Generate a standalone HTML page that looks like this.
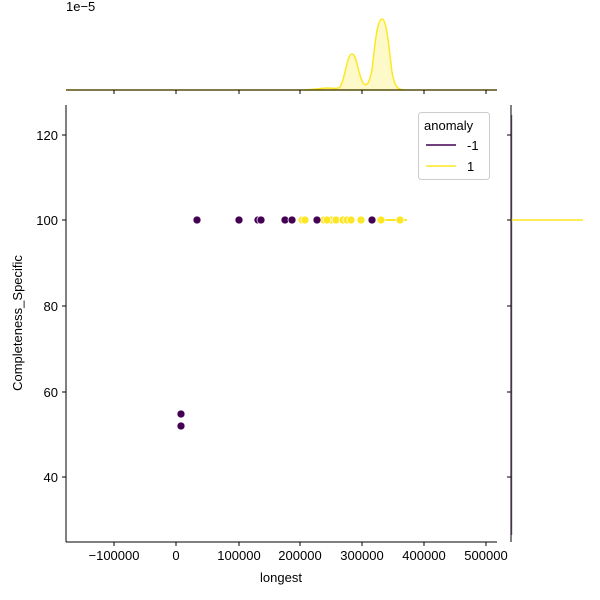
<!DOCTYPE html>
<html><head><style>body{margin:0;background:#fff}svg{display:block}text{font-family:"Liberation Sans","DejaVu Sans",sans-serif;font-size:13px;fill:#000}</style></head><body>
<svg width="600" height="600" viewBox="0 0 600 600">
<text x="66" y="11" font-size="13">1e−5</text>
<path d="M66,90 L300,90 C312,90 318,88.5 327,88 C333,88 337,89.5 340,87 C345,80 347,54 352,54 C357,54 359,80 364,84 C367,86 369,84 372,70 C375,45 377,19 382,19 C387,19 389,50 392,72 C395,88 398,90 405,90 L497,90 Z" fill="#fde725" fill-opacity="0.25" stroke="#fde725" stroke-width="1.5"/>
<line x1="66" y1="90" x2="497" y2="90" stroke="#000"/>
<g stroke="#000"><line x1="114" y1="90" x2="114" y2="94"/><line x1="176" y1="90" x2="176" y2="94"/><line x1="239" y1="90" x2="239" y2="94"/><line x1="300" y1="90" x2="300" y2="94"/><line x1="362" y1="90" x2="362" y2="94"/><line x1="424" y1="90" x2="424" y2="94"/><line x1="486" y1="90" x2="486" y2="94"/></g>
<line x1="511.5" y1="115" x2="511.5" y2="535" stroke="#440154" stroke-opacity="0.6" stroke-width="1.5"/>
<line x1="511" y1="220" x2="583" y2="220" stroke="#fde725" stroke-width="1.5"/>
<line x1="511" y1="105" x2="511" y2="542" stroke="#000"/>
<g stroke="#000"><line x1="507" y1="135" x2="511" y2="135"/><line x1="507" y1="220" x2="511" y2="220"/><line x1="507" y1="306" x2="511" y2="306"/><line x1="507" y1="392" x2="511" y2="392"/><line x1="507" y1="477" x2="511" y2="477"/></g>
<line x1="66" y1="105" x2="66" y2="542" stroke="#000"/>
<line x1="66" y1="542" x2="497" y2="542" stroke="#000"/>
<g stroke="#000"><line x1="62" y1="135" x2="66" y2="135"/><line x1="62" y1="220" x2="66" y2="220"/><line x1="62" y1="306" x2="66" y2="306"/><line x1="62" y1="392" x2="66" y2="392"/><line x1="62" y1="477" x2="66" y2="477"/>
<line x1="114" y1="542" x2="114" y2="546"/><line x1="176" y1="542" x2="176" y2="546"/><line x1="239" y1="542" x2="239" y2="546"/><line x1="300" y1="542" x2="300" y2="546"/><line x1="362" y1="542" x2="362" y2="546"/><line x1="424" y1="542" x2="424" y2="546"/><line x1="486" y1="542" x2="486" y2="546"/></g>
<g text-anchor="end"><text x="58" y="140">120</text><text x="58" y="225">100</text><text x="58" y="311">80</text><text x="58" y="397">60</text><text x="58" y="482">40</text></g>
<g text-anchor="middle"><text x="114" y="560">−100000</text><text x="176" y="560">0</text><text x="239" y="560">100000</text><text x="300" y="560">200000</text><text x="362" y="560">300000</text><text x="424" y="560">400000</text><text x="486" y="560">500000</text>
<text x="281" y="582">longest</text></g>
<text transform="translate(22,323) rotate(-90)" text-anchor="middle">Completeness_Specific</text>
<line x1="381" y1="220" x2="407" y2="220" stroke="#fde725" stroke-width="2"/>
<g stroke="#fff" stroke-width="0.7">
<g fill="#fde725"><circle cx="302" cy="220" r="4"/><circle cx="324" cy="220" r="4"/><circle cx="331" cy="220" r="4"/><circle cx="336" cy="220" r="4"/><circle cx="343" cy="220" r="4"/><circle cx="347" cy="220" r="4"/><circle cx="351" cy="220" r="4"/><circle cx="361" cy="220" r="4"/><circle cx="381" cy="220" r="4"/><circle cx="400" cy="220" r="4"/><circle cx="305" cy="220" r="4"/><circle cx="327" cy="220" r="4"/></g>
<g fill="#440154"><circle cx="197" cy="220" r="4"/><circle cx="239" cy="220" r="4"/><circle cx="258" cy="220" r="4"/><circle cx="261" cy="220" r="4"/><circle cx="285" cy="220" r="4"/><circle cx="292" cy="220" r="4"/><circle cx="317" cy="220" r="4"/><circle cx="372" cy="220" r="4"/><circle cx="181" cy="414" r="4"/><circle cx="181" cy="426" r="4"/></g>
</g>
<rect x="418.5" y="112.5" width="71" height="67" rx="3" fill="#fff" stroke="#ccc"/>
<text x="424" y="130">anomaly</text>
<line x1="426" y1="145" x2="456" y2="145" stroke="#440154" stroke-width="1.5"/>
<text x="467" y="150">-1</text>
<line x1="426" y1="166" x2="456" y2="166" stroke="#fde725" stroke-width="1.5"/>
<text x="467" y="171">1</text>
</svg>
</body></html>
